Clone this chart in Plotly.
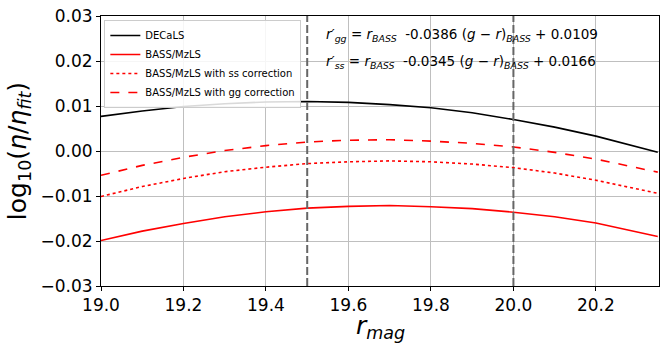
import plotly.graph_objects as go

# magnitude bins
r_mag = [19.0, 19.1, 19.2, 19.3, 19.4, 19.5, 19.6, 19.7, 19.8, 19.9,
         20.0, 20.1, 20.2, 20.3, 20.35]

# log10(eta/eta_fit) per survey
decals = [0.0077, 0.0089, 0.0099, 0.0105, 0.0109, 0.0110, 0.0108, 0.0103,
          0.0096, 0.0085, 0.0070, 0.0053, 0.0033, 0.0010, -0.0003]
bass = [-0.0199, -0.0178, -0.0161, -0.0146, -0.0135, -0.0127, -0.0123, -0.0121,
        -0.0124, -0.0128, -0.0136, -0.0146, -0.0160, -0.0179, -0.0190]
bass_ss = [-0.0101, -0.0079, -0.0061, -0.0046, -0.0036, -0.0028, -0.0024, -0.0022,
           -0.0024, -0.0029, -0.0037, -0.0049, -0.0065, -0.0084, -0.0094]
bass_gg = [-0.0054, -0.0032, -0.0014, 0.0001, 0.0012, 0.0020, 0.0024, 0.0025,
           0.0022, 0.0017, 0.0009, -0.0003, -0.0018, -0.0037, -0.0047]

cuts = [19.5, 20.0]

fig = go.Figure()
fig.add_trace(go.Scatter(x=r_mag, y=decals, mode="lines", name="DECaLS",
                         line=dict(color="black", width=1.6)))
fig.add_trace(go.Scatter(x=r_mag, y=bass, mode="lines", name="BASS/MzLS",
                         line=dict(color="red", width=1.6)))
fig.add_trace(go.Scatter(x=r_mag, y=bass_ss, mode="lines",
                         name="BASS/MzLS with ss correction",
                         line=dict(color="red", width=1.6, dash="dot")))
fig.add_trace(go.Scatter(x=r_mag, y=bass_gg, mode="lines",
                         name="BASS/MzLS with gg correction",
                         line=dict(color="red", width=1.6, dash="dash")))

for c in cuts:
    fig.add_vline(x=c, line=dict(color="#666666", width=2, dash="8px,3px"))

eq_font = dict(family="DejaVu Sans", size=13.5, color="black")
fig.add_annotation(
    x=0.40, y=0.93, xref="paper", yref="paper", xanchor="left", yanchor="middle",
    text="<i>r′<sub>gg</sub></i> = <i>r<sub>BASS</sub></i>  -0.0386 (<i>g</i> − <i>r</i>)<i><sub>BASS</sub></i> + 0.0109",
    showarrow=False, font=eq_font)
fig.add_annotation(
    x=0.40, y=0.83, xref="paper", yref="paper", xanchor="left", yanchor="middle",
    text="<i>r′<sub>ss</sub></i> = <i>r<sub>BASS</sub></i>  -0.0345 (<i>g</i> − <i>r</i>)<i><sub>BASS</sub></i> + 0.0166",
    showarrow=False, font=eq_font)

# x-axis title placed as annotation to match the reference position
fig.add_annotation(
    x=0.5, y=-0.15, xref="paper", yref="paper", xanchor="center", yanchor="middle",
    text="<i>r<sub>mag</sub></i>", showarrow=False,
    font=dict(family="DejaVu Sans", size=25, color="black"))

axis_common = dict(
    showline=True, linecolor="black", linewidth=1, mirror=True,
    ticks="outside", ticklen=4, tickcolor="black",
    showgrid=True, gridcolor="#bfbfbf", gridwidth=1, zeroline=False,
    tickfont=dict(family="DejaVu Sans", size=17, color="black"),
)

fig.update_layout(
    width=666, height=348,
    margin=dict(l=101, r=6, t=14, b=62),
    paper_bgcolor="white", plot_bgcolor="white",
    font=dict(family="DejaVu Sans", color="black"),
    xaxis=dict(range=[19.0, 20.353], tickvals=[19.0, 19.2, 19.4, 19.6, 19.8, 20.0, 20.2],
               tickformat=".1f", **axis_common),
    yaxis=dict(range=[-0.03, 0.03], dtick=0.01, tickformat=".2f",
               title=dict(text="log<sub>10</sub>(<i>η</i>/<i>η<sub>fit</sub></i>)",
                          font=dict(size=25), standoff=6),
               **axis_common),
    legend=dict(x=0.006, y=0.985, xanchor="left", yanchor="top",
                bgcolor="rgba(255,255,255,0.85)", bordercolor="#cccccc", borderwidth=1,
                font=dict(family="DejaVu Sans", size=10, color="black"),
                tracegroupgap=0, itemwidth=30),
    showlegend=True,
)

fig.write_html("out.html", config={"displayModeBar": False},
               post_script="document.body.style.margin='0';")
